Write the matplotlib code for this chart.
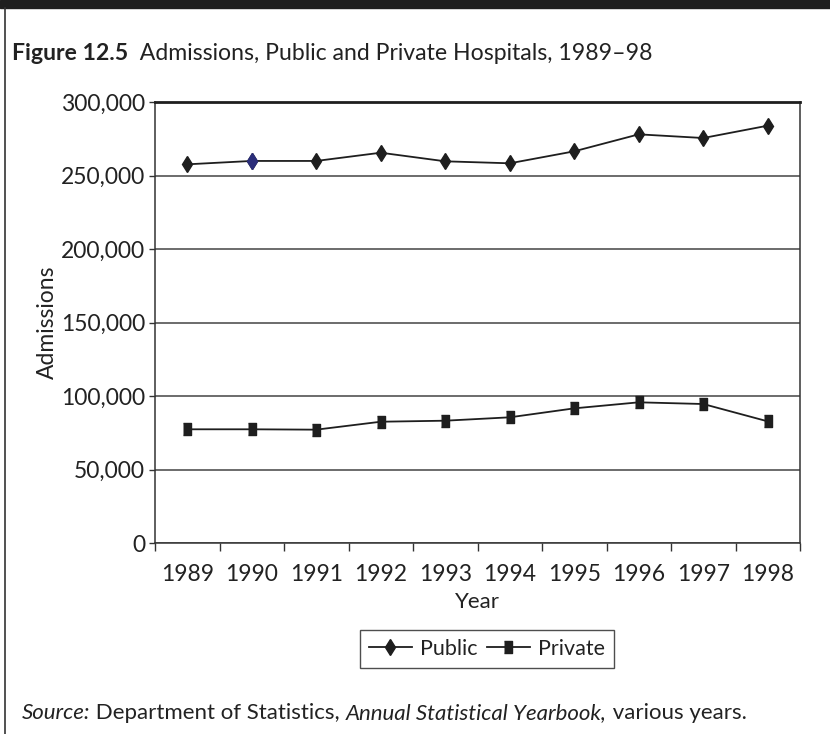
import matplotlib
matplotlib.use("Agg")
import matplotlib.pyplot as plt
from matplotlib.patches import Rectangle
from matplotlib.lines import Line2D
from matplotlib.ticker import FuncFormatter

plt.rcParams['font.family'] = ['Lato', 'DejaVu Sans']

years = [1989, 1990, 1991, 1992, 1993, 1994, 1995, 1996, 1997, 1998]
public = [257600, 259900, 259900, 265500, 259650, 258300, 266450, 278000, 275500, 283900]
private = [77350, 77350, 77100, 82500, 83200, 85500, 91600, 95700, 94550, 82750]
y_ticks = [0, 50000, 100000, 150000, 200000, 250000, 300000]

W, H = 830, 734
fig = plt.figure(figsize=(W / 100, H / 100), dpi=100)

# page decorations: thick bar on top, thin rule down the left
fig.patches.append(Rectangle((0, 1 - 8 / H), 1, 8 / H, transform=fig.transFigure,
                             color='#1e1e1e', zorder=0))
fig.lines.append(Line2D([4.5 / W, 4.5 / W], [0, 1 - 8 / H], transform=fig.transFigure,
                        color='#333333', lw=1.2))

ax = fig.add_axes([155 / W, 1 - 543 / H, 645 / W, 441 / H])

x = list(range(len(years)))
ax.plot(x, public, color='#1e1e1e', lw=1.3, marker='d', ms=8, label='Public', zorder=3)
ax.plot(x[1], public[1], linestyle='none', marker='d', ms=8, color='#2b2e7a', zorder=4)
rect = [(-0.32, -0.5), (0.32, -0.5), (0.32, 0.5), (-0.32, 0.5)]
ax.plot(x, private, color='#1e1e1e', lw=1.3, marker=rect, ms=8.5, label='Private', zorder=3)

ax.set_xlim(-0.5, len(years) - 0.5)
ax.set_ylim(0, 300000)
ax.set_yticks(y_ticks)
ax.yaxis.set_major_formatter(FuncFormatter(lambda v, p: f'{int(v):,}'))
ax.grid(axis='y', color='#444444', lw=1.1)
ax.set_axisbelow(True)

ax.set_xticks([i - 0.5 for i in range(len(years) + 1)])
ax.set_xticklabels([])
ax.set_xticks(x, minor=True)
ax.set_xticklabels([str(y) for y in years], minor=True)
ax.tick_params(axis='x', which='major', length=6, width=1, color='#333333')
ax.tick_params(axis='x', which='minor', length=0, pad=15, labelsize=16.5, labelcolor='#222222')
ax.tick_params(axis='y', length=4, width=1, color='#333333', labelsize=16.5, labelcolor='#222222', pad=3)

for s in ['left', 'bottom', 'right']:
    ax.spines[s].set_color('#333333')
    ax.spines[s].set_linewidth(1.1)
ax.spines['top'].set_color('#1e1e1e')
ax.spines['top'].set_linewidth(2)

ax.set_xlabel('Year', fontsize=16, color='#222222', labelpad=5)
ax.set_ylabel('Admissions', fontsize=16.5, color='#222222', labelpad=2)

leg = ax.legend(loc='center', bbox_to_anchor=(487 / W, 1 - 649 / H), bbox_transform=fig.transFigure,
                ncol=2, frameon=True, fancybox=False, edgecolor='#222222', fontsize=15.5,
                handlelength=2.0, handletextpad=0.4, columnspacing=0.4, borderpad=0.4)
leg.get_frame().set_linewidth(1.0)
for t in leg.get_texts():
    t.set_color('#222222')

renderer = fig.canvas.get_renderer()


def run_text(parts, x0, y0, size):
    xp = x0
    for txt, kw in parts:
        t = fig.text(xp / W, 1 - y0 / H, txt, fontsize=size, va='center', ha='left',
                     color='#222222', **kw)
        bb = t.get_window_extent(renderer)
        xp += bb.width


run_text([('Figure 12.5', {'fontweight': 'bold'}),
          ('  Admissions, Public and Private Hospitals, 1989\u201398', {})], 12, 53, 16.6)

run_text([('Source:', {'style': 'italic'}),
          (' Department of Statistics, ', {}),
          ('Annual Statistical Yearbook,', {'style': 'italic'}),
          (' various years.', {})], 22, 713, 16)

fig.savefig('out.png', dpi=100)
